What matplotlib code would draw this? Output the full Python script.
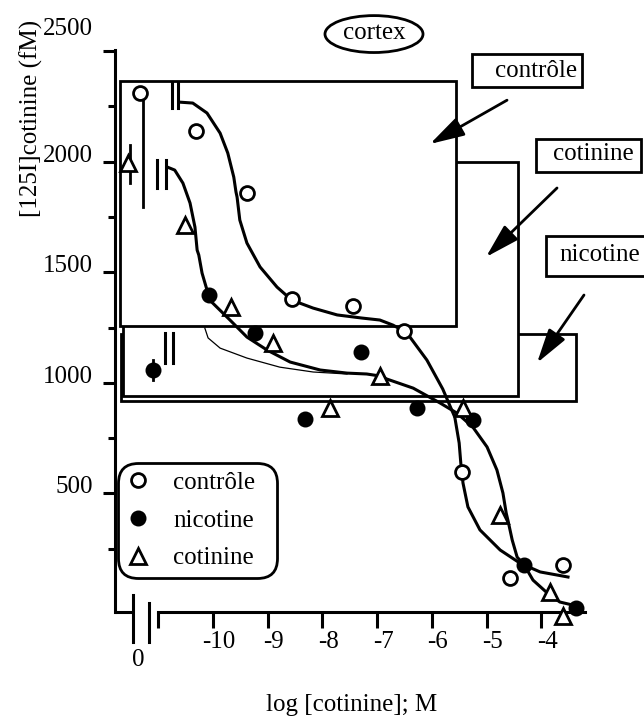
import matplotlib
matplotlib.use("Agg")
from matplotlib import pyplot as plt
from matplotlib.patches import Rectangle, Ellipse
import matplotlib.transforms as mtransforms

plt.rcParams['font.family'] = ['Liberation Serif', 'DejaVu Serif']
plt.rcParams['font.size'] = 18

# log [cotinine] (M) vs bound [125I]cotinine (fM)
ctrl_x = [-11.33, -10.31, -9.38, -8.56, -7.44, -6.51, -5.45, -4.57, -3.60]
ctrl_y = [2310, 2138, 1858, 1379, 1347, 1234, 597, 118, 176]
nic_x = [-11.10, -10.07, -9.23, -8.32, -7.29, -6.27, -5.25, -4.31, -3.36]
nic_y = [1058, 1397, 1225, 836, 1139, 886, 832, 176, -18]
cot_x = [-11.55, -10.51, -9.67, -8.90, -7.86, -6.95, -5.43, -4.75, -3.84, -3.60]
cot_y = [1994, 1713, 1343, 1180, 886, 1031, 886, 402, 54, -54]

# hand drawn fitted curves
fit_ctrl_x = [-10.60, -10.37, -10.11, -9.87, -9.73, -9.62, -9.58, -9.56, -9.51,
              -9.38, -9.14, -8.83, -8.56, -8.17, -7.73, -7.28, -6.95, -6.71,
              -6.51, -6.40, -6.09, -5.80, -5.58, -5.50, -5.47, -5.43, -5.34,
              -5.12, -4.75, -4.39, -4.02, -3.51]
fit_ctrl_y = [2269, 2265, 2220, 2129, 2039, 1930, 1863, 1840, 1736, 1632, 1524,
              1433, 1374, 1338, 1307, 1293, 1284, 1261, 1234, 1207, 1103, 972,
              845, 728, 637, 547, 439, 335, 244, 185, 145, 122]
fit_cot_x = [-10.84, -10.70, -10.55, -10.42, -10.33, -10.29, -10.26, -10.20,
             -10.11, -10.06, -9.69, -9.38, -9.01, -8.59, -8.04, -7.55, -7.19,
             -6.95, -6.82, -6.34, -5.85, -5.54, -5.25, -4.99, -4.81, -4.70,
             -4.64, -4.61, -4.53, -4.44, -4.31, -4.15, -3.89, -3.66, -3.42]
fit_cot_y = [1976, 1962, 1903, 1813, 1704, 1600, 1578, 1496, 1420, 1374, 1284,
             1207, 1148, 1094, 1058, 1044, 1040, 1031, 1017, 976, 909, 863, 800,
             710, 606, 502, 411, 380, 289, 212, 176, 108, 50, 9, -5]
fit_nic_x = [-10.15, -10.09, -9.87, -9.38, -8.78, -8.17, -7.55]
fit_nic_y = [1248, 1203, 1157, 1112, 1071, 1049, 1040]

xtick_pos = [-11.0, -10, -9, -8, -7, -6, -5, -4]
xtick_lab = ['', '-10', '-9', '-8', '-7', '-6', '-5', '-4']
ytick_pos = [500, 1000, 1500, 2000, 2500]
ytick_minor = [250, 750, 1250, 1750, 2250]

fig = plt.figure(figsize=(6.44, 7.21), dpi=100)
ax = fig.add_axes([0, 0, 1, 1])
ax.set_xlim(-13.894, -2.121)
ax.set_ylim(-529, 2731)

# axes drawn as open spines with a broken x axis
for s in ['top', 'right']:
    ax.spines[s].set_visible(False)
ax.spines['left'].set_position(('data', -11.792))
ax.spines['left'].set_bounds(-36, 2504)
ax.spines['bottom'].set_position(('data', -36))
ax.spines['bottom'].set_bounds(-11.005, -3.199)
for s in ['left', 'bottom']:
    ax.spines[s].set_linewidth(2.2)
ax.plot([-11.792, -11.463], [-36, -36], color='k', lw=2.2, solid_capstyle='butt')
ax.plot([-11.463, -11.463], [41, -172], color='k', lw=2.2)
ax.plot([-11.170, -11.170], [4, -172], color='k', lw=2.2)
ax.text(-11.371, -253, '0', ha='center', va='center')

ax.set_xticks(xtick_pos, xtick_lab)
ax.set_yticks(ytick_pos, [str(v) for v in ytick_pos])
ax.set_yticks(ytick_minor, minor=True)
ax.tick_params(axis='x', direction='out', length=11.5, width=2.2, pad=2)
ax.tick_params(axis='y', which='major', direction='out', length=8.6, width=2.2, pad=7)
ax.tick_params(axis='y', which='minor', direction='out', length=5, width=2.2)
shift_x = mtransforms.ScaledTranslation(0.06, 0, fig.dpi_scale_trans)
for lab in ax.get_xticklabels():
    lab.set_transform(lab.get_transform() + shift_x)
for lab in ax.get_yticklabels():
    lab.set_verticalalignment('baseline')
shift_top = mtransforms.ScaledTranslation(0, 0.16, fig.dpi_scale_trans)
top_lab = ax.get_yticklabels()[-1]
top_lab.set_transform(top_lab.get_transform() + shift_top)

ax.set_ylabel('[125I]cotinine (fM)')
ax.yaxis.set_label_coords(43 / 644, 1 - 118 / 721)
ax.set_xlabel('log [cotinine]; M')
ax.xaxis.set_label_coords(352 / 644, 1 - 694 / 721)

# overlapping frames (drawn back to front, white filled)
ax.add_patch(Rectangle((-11.682, 918), 8.318, 303, fc='white', ec='k', lw=2, zorder=1))
ax.add_patch(Rectangle((-11.645, 940), 7.221, 1058, fc='white', ec='k', lw=2, zorder=2))
ax.add_patch(Rectangle((-11.70, 1257), 6.142, 1107, fc='white', ec='k', lw=2, zorder=3))

# label boxes with arrows
ax.add_patch(Rectangle((-5.265, 2337), 2.011, 149, fc='white', ec='k', lw=2, zorder=4))
ax.text(-4.845, 2410, 'contrôle', ha='left', va='center', zorder=5)
ax.add_patch(Rectangle((-4.095, 1953), 1.919, 149, fc='white', ec='k', lw=2, zorder=4))
ax.text(-3.784, 2033, 'cotinine', ha='left', va='center', zorder=5)
ax.add_patch(Rectangle((-3.912, 1483), 1.95, 181, fc='white', ec='k', lw=2, zorder=4))
ax.text(-3.675, 1577, 'nicotine', ha='left', va='center', zorder=5)
arrow = dict(arrowstyle='-|>,head_length=0.7,head_width=0.2', lw=2, color='k',
             mutation_scale=30, shrinkA=0, shrinkB=0)
ax.annotate('', xy=(-6.033, 2080), xytext=(-4.625, 2278), arrowprops=arrow, zorder=5)
ax.annotate('', xy=(-5.009, 1569), xytext=(-3.711, 1881), arrowprops=arrow, zorder=5)
ax.annotate('', xy=(-4.077, 1090), xytext=(-3.218, 1397), arrowprops=arrow, zorder=5)

ax.add_patch(Ellipse((-7.057, 2577), 1.792, 167, fill=False, ec='k', lw=2, zorder=4))
ax.text(-7.057, 2582, 'cortex', ha='center', va='center', zorder=5)

# break marks and vertical bars near the zero-concentration points
for bx, y0, y1 in [(-10.750, 2355, 2242), (-10.640, 2355, 2242),
                   (-11.024, 2007, 1881), (-10.859, 2007, 1881),
                   (-10.878, 1225, 1090), (-10.731, 1225, 1090)]:
    ax.plot([bx, bx], [y0, y1], color='k', lw=2.2, zorder=5)
ax.plot([-11.280, -11.280], [2288, 1795], color='k', lw=2, zorder=5)
ax.plot([-11.517, -11.517], [2075, 1903], color='k', lw=2, zorder=5)
ax.plot([-11.097, -11.097], [1103, 1013], color='k', lw=2, zorder=5)

# fitted curves
ax.plot(fit_ctrl_x, fit_ctrl_y, color='k', lw=2.2, zorder=6)
ax.plot(fit_cot_x, fit_cot_y, color='k', lw=2.2, zorder=6)
ax.plot(fit_nic_x, fit_nic_y, color='k', lw=0.9, zorder=6)

# data points
h1, = ax.plot(ctrl_x, ctrl_y, 'o', ms=10, mfc='white', mec='k', mew=2, zorder=7,
              label='contrôle')
h2, = ax.plot(nic_x, nic_y, 'o', ms=10, mfc='k', mec='k', mew=1.5, zorder=7,
              label='nicotine')
h3, = ax.plot(cot_x, cot_y, '^', ms=11, mfc='white', mec='k', mew=2, zorder=7,
              label='cotinine')

leg = ax.legend(handles=[h1, h2, h3], loc='upper left', mode='expand',
                bbox_to_anchor=(118 / 644, 1 - 578 / 721, 159 / 644, 115 / 721),
                bbox_transform=fig.transFigure,
                borderaxespad=0, frameon=True, fancybox=True, edgecolor='k',
                framealpha=1, handlelength=0.9, handletextpad=0.95,
                labelspacing=0.6, borderpad=0.35)
leg.get_frame().set_linewidth(2)
leg.get_frame().set_boxstyle('round', pad=0, rounding_size=0.8)
leg.set_zorder(8)

fig.savefig('out.png', dpi=100)
